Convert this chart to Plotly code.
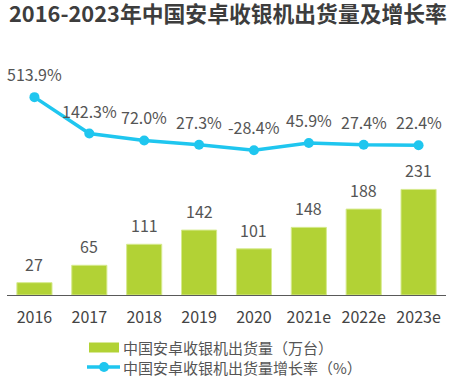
import plotly.graph_objects as go

categories = ["2016", "2017", "2018", "2019", "2020", "2021e", "2022e", "2023e"]
shipments = [27, 65, 111, 142, 101, 148, 188, 231]
growth = [513.9, 142.3, 72.0, 27.3, -28.4, 45.9, 27.4, 22.4]
growth_labels = ["513.9%", "142.3%", "72.0%", "27.3%", "-28.4%", "45.9%", "27.4%", "22.4%"]
series_names = ["中国安卓收银机出货量（万台）", "中国安卓收银机出货量增长率（%）"]

BAR = "#b2d235"
LINE = "#1fc6ef"
TXT = "#555555"
FONT = "Noto Sans CJK SC, Microsoft YaHei, sans-serif"

W, H = 458, 381
ML, MR, MT, MB = 7, 12, 70, 86
PW, PH = W - ML - MR, H - MT - MB


def px_x(px):
    return (px - ML) / PW


def px_y(py):
    return (H - MB - py) / PH


fig = go.Figure()

fig.add_trace(go.Bar(
    x=categories, y=shipments, name=series_names[0],
    marker=dict(color=BAR, line=dict(color="#d6ea8e", width=1)),
    width=0.64,
))

fig.add_trace(go.Scatter(
    x=categories, y=growth, yaxis="y2", mode="lines+markers",
    name=series_names[1],
    line=dict(color=LINE, width=3.5),
    marker=dict(color=LINE, size=10),
))

annotations = []
for i, v in enumerate(shipments):
    annotations.append(dict(x=i, y=v, xref="x", yref="y", text=str(v),
                            showarrow=False, yanchor="middle", yshift=19,
                            font=dict(size=16, color=TXT, family=FONT)))
for i, (v, t) in enumerate(zip(growth, growth_labels)):
    annotations.append(dict(x=i, y=v, xref="x", yref="y2", text=t,
                            showarrow=False, yanchor="middle", yshift=23,
                            font=dict(size=16, color=TXT, family=FONT)))

# manual legend
leg_rows = [347, 367]
for name, row in zip(series_names, leg_rows):
    annotations.append(dict(x=px_x(121), y=px_y(row), xref="paper", yref="paper",
                            text=name, showarrow=False, xanchor="left", yanchor="middle",
                            font=dict(size=15, color=TXT, family=FONT)))

shapes = [
    dict(type="rect", xref="paper", yref="paper",
         x0=px_x(89), x1=px_x(119), y0=px_y(352.5), y1=px_y(342.5),
         fillcolor=BAR, line=dict(width=0)),
    dict(type="line", xref="paper", yref="paper",
         x0=px_x(87), x1=px_x(120), y0=px_y(367), y1=px_y(367),
         line=dict(color=LINE, width=3.5)),
    dict(type="circle", xref="paper", yref="paper",
         x0=px_x(99), x1=px_x(109), y0=px_y(372), y1=px_y(362),
         fillcolor=LINE, line=dict(width=0)),
]

fig.update_layout(
    width=W, height=H,
    margin=dict(l=ML, r=MR, t=MT, b=MB),
    paper_bgcolor="white", plot_bgcolor="white",
    font=dict(family=FONT, color=TXT),
    title=dict(text="<b>2016-2023年中国安卓收银机出货量及增长率</b>",
               x=9 / W, xanchor="left", xref="container",
               y=1 - 14 / H, yanchor="middle", yref="container",
               font=dict(size=21.8, color="#3d3d3d", family=FONT)),
    xaxis=dict(type="category", categoryorder="array", categoryarray=categories,
               range=[-0.5, 7.5],
               showgrid=False, showline=True, linecolor="#595959", linewidth=1.2,
               ticks="outside", ticklen=8, tickcolor="rgba(0,0,0,0)",
               tickfont=dict(size=16, color="#444444", family=FONT)),
    yaxis=dict(range=[0, 492.3], visible=False, showgrid=False),
    yaxis2=dict(range=[-1505, 790.8], overlaying="y", visible=False, showgrid=False),
    showlegend=False,
    annotations=annotations,
    shapes=shapes,
)

fig.write_html("out.html", config={"displayModeBar": False},
               post_script="document.body.style.margin='0';document.body.style.padding='0';")
